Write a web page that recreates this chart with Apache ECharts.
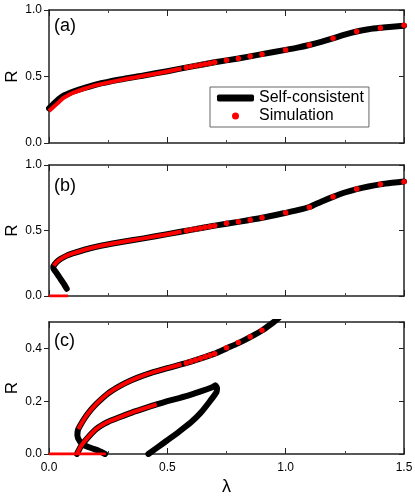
<!DOCTYPE html>
<html>
<head>
<meta charset="utf-8">
<script src="https://cdn.jsdelivr.net/npm/echarts@6/dist/echarts.min.js"></script>
<style>
  html, body { margin: 0; padding: 0; background: #fff; }
  #main { width: 415px; height: 497px; }
</style>
</head>
<body>
<div id="main"></div>
<script>
// ---- data: [lambda, R] ----
// panel (a)
var aSelf = [[0,0.26],[0.02,0.295],[0.04,0.328],[0.06,0.355],[0.08,0.37],[0.1,0.385],[0.15,0.414],[0.2,0.44],[0.3,0.477],[0.4,0.508],[0.5,0.54],[0.6,0.574],[0.7,0.607],[0.8,0.635],[0.9,0.668],[1.0,0.70],[1.05,0.717],[1.1,0.737],[1.15,0.76],[1.2,0.787],[1.25,0.815],[1.3,0.838],[1.35,0.855],[1.4,0.866],[1.45,0.874],[1.5,0.882]];
var aSimLine = [[0,0.24],[0.02,0.272],[0.04,0.305],[0.06,0.338],[0.08,0.358],[0.1,0.376],[0.15,0.408],[0.2,0.435],[0.3,0.473],[0.4,0.505],[0.5,0.538],[0.56,0.56]];
var aSimDots = [[0.58,0.567],[0.6,0.574],[0.62,0.58],[0.64,0.587],[0.66,0.594],[0.68,0.6],[0.7,0.607],[0.75,0.622],[0.8,0.636],[0.85,0.652],[0.9,0.668],[1.0,0.70],[1.1,0.737],[1.2,0.787],[1.3,0.838],[1.4,0.865],[1.5,0.885]];

// panel (b)
var bSelf = [[0.075,0.055],[0.06,0.10],[0.045,0.14],[0.03,0.18],[0.02,0.205],[0.018,0.222],[0.025,0.245],[0.045,0.278],[0.075,0.308],[0.1,0.325],[0.15,0.353],[0.2,0.376],[0.3,0.41],[0.4,0.44],[0.5,0.472],[0.6,0.505],[0.7,0.537],[0.8,0.566],[0.9,0.597],[1.0,0.635],[1.05,0.655],[1.1,0.679],[1.15,0.72],[1.2,0.757],[1.25,0.79],[1.3,0.816],[1.35,0.836],[1.4,0.852],[1.45,0.864],[1.5,0.874]];
var bSimLine = [[0.02,0.232],[0.03,0.255],[0.045,0.278],[0.075,0.308],[0.1,0.325],[0.15,0.353],[0.2,0.376],[0.3,0.41],[0.4,0.44],[0.5,0.472],[0.56,0.492]];
var bSimDots = [[0.58,0.499],[0.6,0.505],[0.62,0.512],[0.64,0.518],[0.66,0.524],[0.68,0.531],[0.7,0.537],[0.75,0.555],[0.8,0.566],[0.85,0.58],[0.9,0.598],[1.0,0.636],[1.1,0.677],[1.2,0.758],[1.3,0.817],[1.4,0.853],[1.5,0.873]];
var bSimZero = [[0,0],[0.08,0]];

// panel (c)
var cSelfUpper = [[0.237,0],[0.21,0.012],[0.18,0.022],[0.15,0.033],[0.13,0.048],[0.12,0.07],[0.122,0.09],[0.13,0.105],[0.15,0.135],[0.175,0.165],[0.2,0.19],[0.25,0.23],[0.3,0.258],[0.35,0.28],[0.4,0.298],[0.5,0.325],[0.6,0.35],[0.7,0.38],[0.75,0.40],[0.8,0.42],[0.85,0.443],[0.9,0.468],[0.95,0.5],[0.97,0.515]];
var cSelfLoop = [[0.118,0],[0.135,0.03],[0.16,0.058],[0.2,0.095],[0.25,0.122],[0.3,0.14],[0.35,0.157],[0.4,0.172],[0.455,0.188],[0.5,0.2],[0.55,0.212],[0.6,0.225],[0.65,0.24],[0.69,0.253],[0.703,0.26],[0.71,0.25],[0.708,0.235],[0.68,0.2],[0.64,0.155],[0.6,0.12],[0.55,0.085],[0.5,0.052],[0.46,0.026],[0.42,0]];
var cSimUpper = [[0.124,0.095],[0.14,0.12],[0.16,0.148],[0.2,0.19],[0.25,0.23],[0.3,0.258],[0.35,0.28],[0.4,0.298],[0.5,0.325],[0.56,0.34]];
var cSimMid = [[0.118,0],[0.135,0.03],[0.16,0.058],[0.2,0.095],[0.25,0.122],[0.3,0.14],[0.35,0.157],[0.4,0.172],[0.455,0.188]];
var cSimDots = [[0.58,0.345],[0.6,0.35],[0.62,0.356],[0.64,0.362],[0.66,0.368],[0.68,0.374],[0.7,0.38],[0.75,0.402],[0.8,0.422],[0.85,0.444],[0.9,0.469]];
var cSimZero = [[0,0],[0.24,0]];

var panelLabels = ['(a)', '(b)', '(c)'];

var FONT = '"Liberation Sans", Arial, sans-serif';
var frame = { show: true, onZero: false, lineStyle: { color: '#222', width: 1.5 } };
var grids = [
    { left: 49, right: 11, top: 10, height: 133, outerBoundsMode: 'none' },
    { left: 49, right: 11, top: 165, height: 131, outerBoundsMode: 'none' },
    { left: 49, right: 11, top: 322, height: 132, outerBoundsMode: 'none' }
];

var xAxes = [], yAxes = [];
for (var i = 0; i < 3; i++) {
    var last = (i == 2);
    // bottom + top x axes
    xAxes.push({
        type: 'value', gridIndex: i, position: 'bottom', min: 0, max: 1.5, interval: 0.5,
        axisLine: frame, splitLine: { show: false },
        axisTick: { inside: true, length: 6, lineStyle: { color: '#222' } },
        minorTick: { show: true, splitNumber: 2, length: 3, lineStyle: { color: '#444' } },
        axisLabel: { show: last, margin: 8, fontSize: 12, color: '#000', fontFamily: FONT,
            formatter: function (v) { return v.toFixed(1); } },
        name: last ? 'λ' : '', nameLocation: 'middle', nameGap: 24,
        nameTextStyle: { fontSize: 18, color: '#000', fontFamily: FONT }
    });
    xAxes.push({
        type: 'value', gridIndex: i, position: 'top', min: 0, max: 1.5, interval: 0.5,
        axisLine: frame, splitLine: { show: false },
        axisTick: { inside: true, length: 6, lineStyle: { color: '#222' } },
        minorTick: { show: true, splitNumber: 2, length: 3, lineStyle: { color: '#444' } },
        axisLabel: { show: false }
    });
    var ymax = last ? 0.5 : 1.0, yint = last ? 0.2 : 0.5;
    yAxes.push({
        type: 'value', gridIndex: i, position: 'left', min: 0, max: ymax, interval: yint,
        axisLine: frame, splitLine: { show: false },
        axisTick: { inside: false, length: 5, lineStyle: { color: '#222' } },
        axisLabel: { margin: 7, fontSize: 12, color: '#000', fontFamily: FONT, showMaxLabel: !last,
            formatter: function (v) { return v.toFixed(1); } }
    });
    yAxes.push({
        type: 'value', gridIndex: i, position: 'right', min: 0, max: ymax, interval: yint,
        axisLine: frame, splitLine: { show: false },
        axisTick: { inside: true, length: 5, lineStyle: { color: '#222' } },
        axisLabel: { show: false }
    });
}

// "R" axis titles, rotated, centred on each panel's height
var rTitles = grids.map(function (g) {
    return { type: 'text', x: 12.5, y: g.top + g.height / 2, rotation: Math.PI / 2,
        style: { text: 'R', fontSize: 17, fontFamily: FONT, fill: '#000',
            align: 'center', verticalAlign: 'middle' } };
});

function selfLine(name, data, p) {
    return { name: name, type: 'line', xAxisIndex: p * 2, yAxisIndex: p * 2, data: data,
        showSymbol: false, smooth: 0.2, color: '#000',
        lineStyle: { color: '#000', width: 6, cap: 'round', join: 'round' } };
}
function simLine(name, data, p, w) {
    return { name: name, type: 'line', xAxisIndex: p * 2, yAxisIndex: p * 2, data: data,
        showSymbol: false, smooth: 0.2, color: '#f00',
        lineStyle: { color: '#f00', width: w || 4, cap: 'butt', join: 'round' } };
}
// simulation points: markers only, no connecting line
function simDots(data, p) {
    return { name: 'Simulation', type: 'line', xAxisIndex: p * 2, yAxisIndex: p * 2, data: data,
        showSymbol: true, showAllSymbol: true, symbol: 'circle', symbolSize: 5.5, color: '#f00',
        itemStyle: { color: '#f00', borderWidth: 0 }, lineStyle: { width: 0, opacity: 0 } };
}

var chart = echarts.init(document.getElementById('main'));
chart.setOption({
    animation: false,
    backgroundColor: '#fff',
    textStyle: { fontFamily: FONT },
    title: panelLabels.map(function (t, k) {
        return { text: t, left: 54, top: [17, 177, 332][k], padding: 0,
            textStyle: { fontSize: 18, fontWeight: 'normal', color: '#000', fontFamily: FONT } };
    }),
    graphic: rTitles,
    legend: {
        orient: 'vertical', left: 210, top: 87, padding: [2, 5, 2, 7], itemGap: 0,
        itemWidth: 37, itemHeight: 7, borderColor: '#666', borderWidth: 1,
        textStyle: { fontSize: 16, lineHeight: 18, color: '#000', fontFamily: FONT },
        data: [
            { name: 'Self-consistent', icon: 'roundRect', itemStyle: { color: '#000' } },
            { name: 'Simulation', icon: 'circle', itemStyle: { color: '#f00' } }
        ]
    },
    grid: grids,
    xAxis: xAxes,
    yAxis: yAxes,
    series: [
        selfLine('Self-consistent', aSelf, 0),
        simLine('sim a', aSimLine, 0),
        simDots(aSimDots, 0),
        selfLine('self b', bSelf, 1),
        simLine('sim b', bSimLine, 1),
        simLine('sim b zero', bSimZero, 1, 3),
        simDots(bSimDots, 1),
        selfLine('self c1', cSelfUpper, 2),
        selfLine('self c2', cSelfLoop, 2),
        simLine('sim c1', cSimUpper, 2),
        simLine('sim c2', cSimMid, 2),
        simLine('sim c zero', cSimZero, 2, 3),
        simDots(cSimDots, 2)
    ]
});
</script>
</body>
</html>
